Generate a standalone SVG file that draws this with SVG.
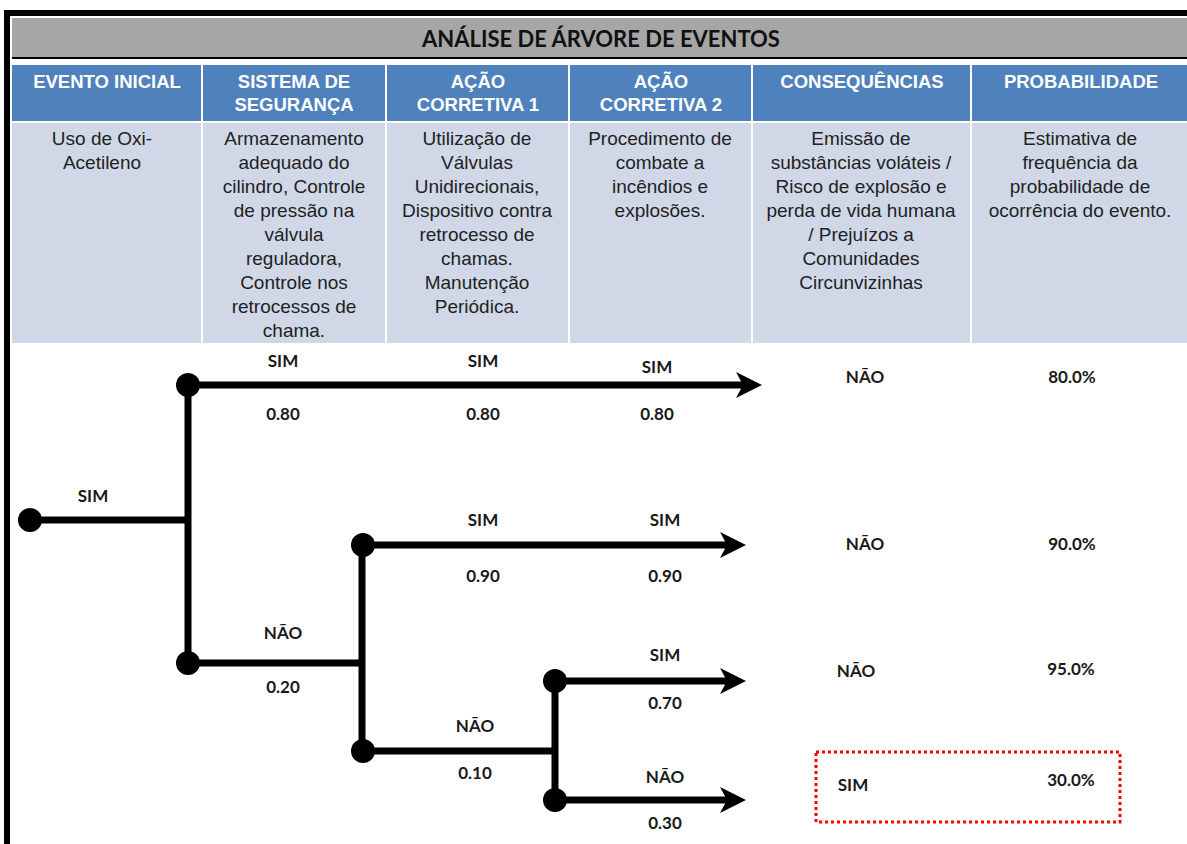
<svg xmlns="http://www.w3.org/2000/svg" width="1187" height="844" viewBox="0 0 1187 844">
<style>
.hd{font-family:"Liberation Sans",Arial,sans-serif;font-size:18.5px;font-weight:bold;fill:#fff;text-anchor:middle}
.bd{font-family:"Liberation Sans",Arial,sans-serif;font-size:19px;fill:#222;text-anchor:middle}
.lb{font-family:Lato,"Open Sans",sans-serif;font-size:17px;font-weight:bold;fill:#1a1a1a;text-anchor:middle}
.ttl{font-family:Lato,"Open Sans",sans-serif;font-size:22px;font-weight:bold;fill:#111;text-anchor:middle}
.hc{fill:#4F81BD}
.bc{fill:#D0D8E8}
.ln{stroke:#000;stroke-width:7;fill:none}
.dot{fill:#000}
</style>
<defs>
<marker id="ah" markerUnits="userSpaceOnUse" markerWidth="26" markerHeight="28" viewBox="0 0 26 28" refX="7" refY="14" orient="auto">
<path d="M0,1 L26,14 L0,27 L7,14 z" fill="#000"/>
</marker>
</defs>
<rect width="1187" height="844" fill="#fff"/>
<g id="frame">
<rect x="4" y="10" width="1183" height="6" fill="#000"/>
<rect x="12" y="18" width="1175" height="39" fill="#A6A6A6"/>
<rect x="12" y="57" width="1175" height="2" fill="#000"/>
<rect x="4" y="10" width="6" height="834" fill="#000"/>
<text class="ttl" x="601" y="47">ANÁLISE DE ÁRVORE DE EVENTOS</text>
</g>
<g id="header">
<rect class="hc" x="12" y="65" width="189" height="56"/>
<rect class="hc" x="203" y="65" width="182" height="56"/>
<rect class="hc" x="387" y="65" width="181" height="56"/>
<rect class="hc" x="570" y="65" width="181" height="56"/>
<rect class="hc" x="753" y="65" width="217" height="56"/>
<rect class="hc" x="972" y="65" width="215" height="56"/>
<text class="hd" x="107" y="88">EVENTO INICIAL</text>
<text class="hd" x="294" y="88">SISTEMA DE</text>
<text class="hd" x="294" y="111">SEGURANÇA</text>
<text class="hd" x="478" y="88">AÇÃO</text>
<text class="hd" x="478" y="111">CORRETIVA 1</text>
<text class="hd" x="661" y="88">AÇÃO</text>
<text class="hd" x="661" y="111">CORRETIVA 2</text>
<text class="hd" x="862" y="88">CONSEQUÊNCIAS</text>
<text class="hd" x="1081" y="88">PROBABILIDADE</text>
</g>
<g id="descriptions">
<rect class="bc" x="12" y="123" width="189" height="220"/>
<rect class="bc" x="203" y="123" width="182" height="220"/>
<rect class="bc" x="387" y="123" width="181" height="220"/>
<rect class="bc" x="570" y="123" width="181" height="220"/>
<rect class="bc" x="753" y="123" width="217" height="220"/>
<rect class="bc" x="972" y="123" width="215" height="220"/>
<text class="bd" x="102" y="145">Uso de Oxi-</text>
<text class="bd" x="102" y="169">Acetileno</text>
<text class="bd" x="294" y="145">Armazenamento</text>
<text class="bd" x="294" y="169">adequado do</text>
<text class="bd" x="294" y="193">cilindro, Controle</text>
<text class="bd" x="294" y="217">de pressão na</text>
<text class="bd" x="294" y="241">válvula</text>
<text class="bd" x="294" y="265">reguladora,</text>
<text class="bd" x="294" y="289">Controle nos</text>
<text class="bd" x="294" y="313">retrocessos de</text>
<text class="bd" x="294" y="337">chama.</text>
<text class="bd" x="477" y="145">Utilização de</text>
<text class="bd" x="477" y="169">Válvulas</text>
<text class="bd" x="477" y="193">Unidirecionais,</text>
<text class="bd" x="477" y="217">Dispositivo contra</text>
<text class="bd" x="477" y="241">retrocesso de</text>
<text class="bd" x="477" y="265">chamas.</text>
<text class="bd" x="477" y="289">Manutenção</text>
<text class="bd" x="477" y="313">Periódica.</text>
<text class="bd" x="660" y="145">Procedimento de</text>
<text class="bd" x="660" y="169">combate a</text>
<text class="bd" x="660" y="193">incêndios e</text>
<text class="bd" x="660" y="217">explosões.</text>
<text class="bd" x="861" y="145">Emissão de</text>
<text class="bd" x="861" y="169">substâncias voláteis /</text>
<text class="bd" x="861" y="193">Risco de explosão e</text>
<text class="bd" x="861" y="217">perda de vida humana</text>
<text class="bd" x="861" y="241">/ Prejuízos a</text>
<text class="bd" x="861" y="265">Comunidades</text>
<text class="bd" x="861" y="289">Circunvizinhas</text>
<text class="bd" x="1080" y="145">Estimativa de</text>
<text class="bd" x="1080" y="169">frequência da</text>
<text class="bd" x="1080" y="193">probabilidade de</text>
<text class="bd" x="1080" y="217">ocorrência do evento.</text>
</g>
<g id="connectors">
<line class="ln" x1="30" y1="520" x2="188" y2="520"/>
<line class="ln" x1="188" y1="385" x2="188" y2="663"/>
<line class="ln" x1="188" y1="385" x2="743" y2="385" marker-end="url(#ah)"/>
<line class="ln" x1="188" y1="663" x2="362" y2="663"/>
<line class="ln" x1="362" y1="545" x2="362" y2="751"/>
<line class="ln" x1="362" y1="545" x2="727" y2="545" marker-end="url(#ah)"/>
<line class="ln" x1="362" y1="751" x2="555" y2="751"/>
<line class="ln" x1="555" y1="681" x2="555" y2="800"/>
<line class="ln" x1="555" y1="681" x2="727" y2="681" marker-end="url(#ah)"/>
<line class="ln" x1="555" y1="800" x2="727" y2="800" marker-end="url(#ah)"/>
</g>
<g id="n-start"><circle class="dot" cx="30" cy="520" r="12"/><text class="lb" x="93" y="502">SIM</text></g>
<g id="n-seg-sim"><circle class="dot" cx="188" cy="385" r="12"/><text class="lb" x="283" y="367">SIM</text><text class="lb" x="283" y="420">0.80</text><text class="lb" x="483" y="367">SIM</text><text class="lb" x="483" y="420">0.80</text><text class="lb" x="657" y="373">SIM</text><text class="lb" x="657" y="420">0.80</text></g>
<g id="n-seg-nao"><circle class="dot" cx="188" cy="663" r="12"/><text class="lb" x="283" y="639">NÃO</text><text class="lb" x="283" y="693">0.20</text></g>
<g id="n-a1-sim"><circle class="dot" cx="363" cy="545" r="12"/><text class="lb" x="483" y="526">SIM</text><text class="lb" x="483" y="582">0.90</text><text class="lb" x="665" y="526">SIM</text><text class="lb" x="665" y="582">0.90</text></g>
<g id="n-a1-nao"><circle class="dot" cx="363" cy="751" r="12"/><text class="lb" x="475" y="732">NÃO</text><text class="lb" x="475" y="779">0.10</text></g>
<g id="n-a2-sim"><circle class="dot" cx="555" cy="681" r="12"/><text class="lb" x="665" y="661">SIM</text><text class="lb" x="665" y="709">0.70</text></g>
<g id="n-a2-nao"><circle class="dot" cx="555" cy="800" r="12"/><text class="lb" x="665" y="783">NÃO</text><text class="lb" x="665" y="829">0.30</text></g>
<g id="out1"><text class="lb" x="865" y="383">NÃO</text><text class="lb" x="1072" y="383">80.0%</text></g>
<g id="out2"><text class="lb" x="865" y="550">NÃO</text><text class="lb" x="1072" y="550">90.0%</text></g>
<g id="out3"><text class="lb" x="856" y="677">NÃO</text><text class="lb" x="1071" y="675">95.0%</text></g>
<g id="out4"><rect x="816" y="752" width="304" height="70" fill="none" stroke="#f00" stroke-width="3" stroke-dasharray="3 3"/><text class="lb" x="853" y="791">SIM</text><text class="lb" x="1071" y="786">30.0%</text></g>
</svg>
